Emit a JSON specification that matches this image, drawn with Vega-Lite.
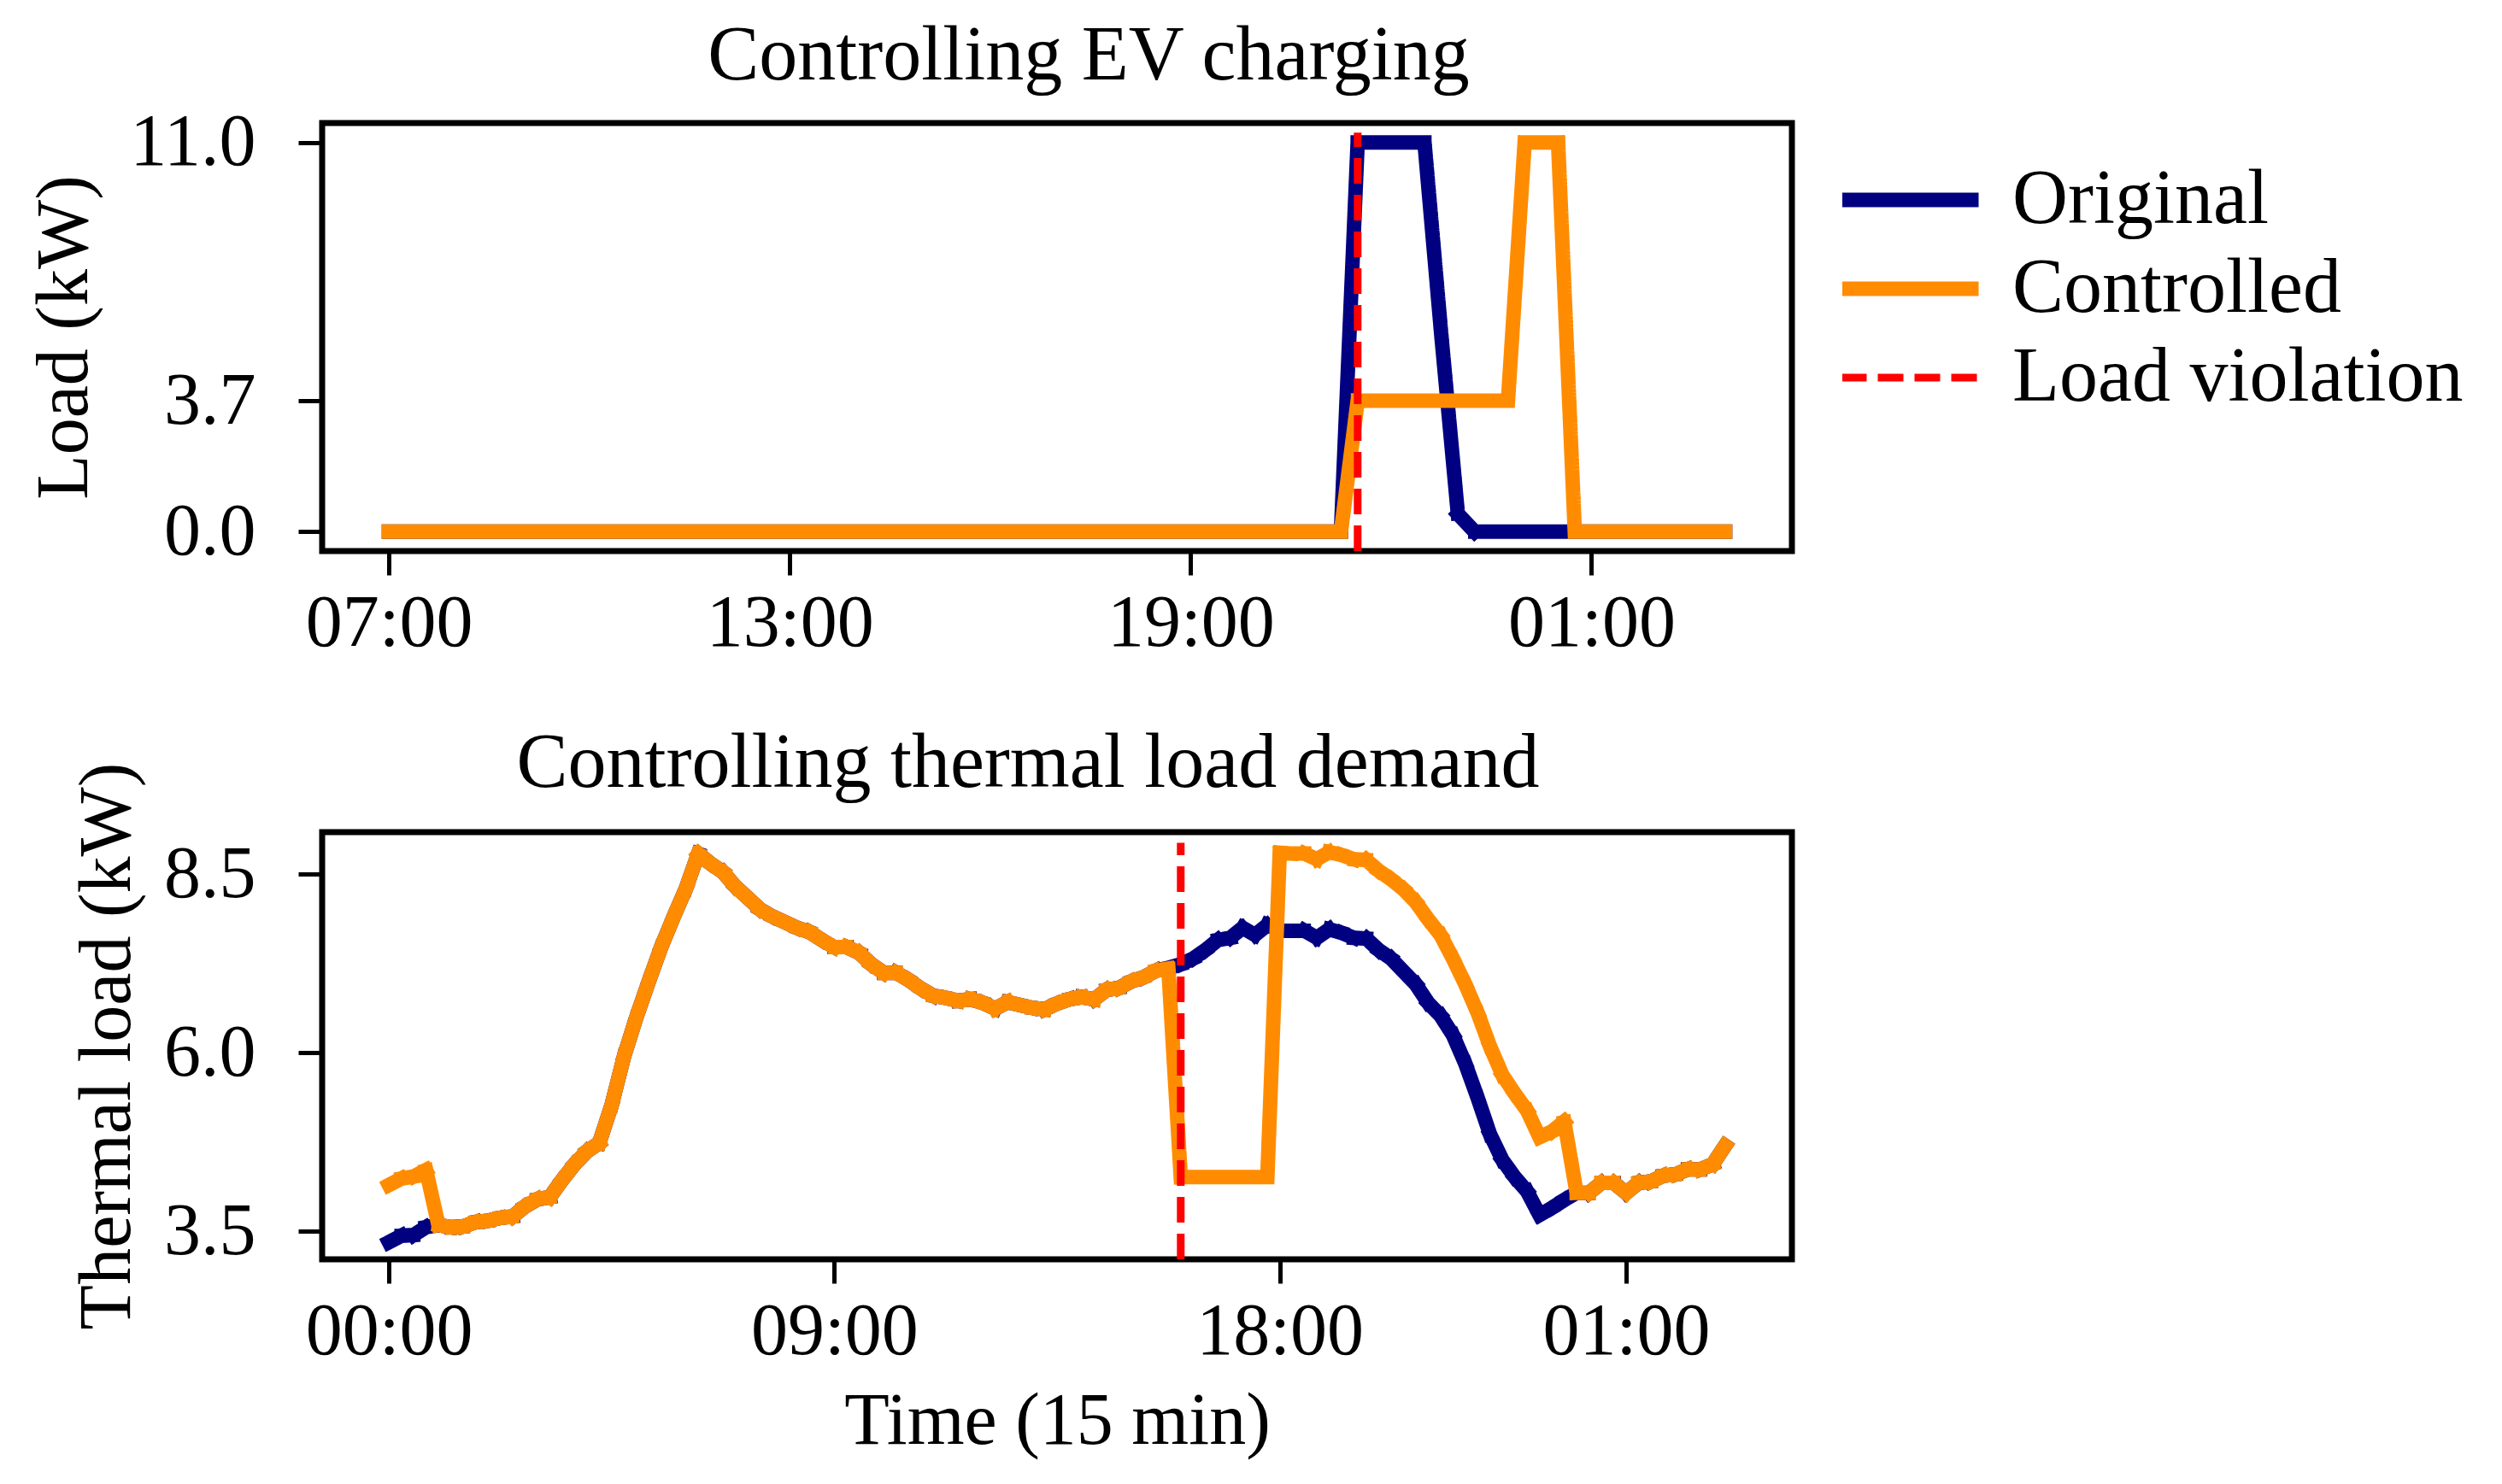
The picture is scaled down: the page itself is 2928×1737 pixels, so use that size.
{
  "$schema": "https://vega.github.io/schema/vega-lite/v6.json",
  "padding": {"left": 28, "top": 17, "right": 10, "bottom": 10},
  "background": "white",
  "spacing": 69,
  "datasets": {
    "ev": [
      {"t": 0, "Original": 0, "Controlled": 0}, {"t": 1, "Original": 0, "Controlled": 0},
      {"t": 2, "Original": 0, "Controlled": 0}, {"t": 3, "Original": 0, "Controlled": 0},
      {"t": 4, "Original": 0, "Controlled": 0}, {"t": 5, "Original": 0, "Controlled": 0},
      {"t": 6, "Original": 0, "Controlled": 0}, {"t": 7, "Original": 0, "Controlled": 0},
      {"t": 8, "Original": 0, "Controlled": 0}, {"t": 9, "Original": 0, "Controlled": 0},
      {"t": 10, "Original": 0, "Controlled": 0}, {"t": 11, "Original": 0, "Controlled": 0},
      {"t": 12, "Original": 0, "Controlled": 0}, {"t": 13, "Original": 0, "Controlled": 0},
      {"t": 14, "Original": 0, "Controlled": 0}, {"t": 15, "Original": 0, "Controlled": 0},
      {"t": 16, "Original": 0, "Controlled": 0}, {"t": 17, "Original": 0, "Controlled": 0},
      {"t": 18, "Original": 0, "Controlled": 0}, {"t": 19, "Original": 0, "Controlled": 0},
      {"t": 20, "Original": 0, "Controlled": 0}, {"t": 21, "Original": 0, "Controlled": 0},
      {"t": 22, "Original": 0, "Controlled": 0}, {"t": 23, "Original": 0, "Controlled": 0},
      {"t": 24, "Original": 0, "Controlled": 0}, {"t": 25, "Original": 0, "Controlled": 0},
      {"t": 26, "Original": 0, "Controlled": 0}, {"t": 27, "Original": 0, "Controlled": 0},
      {"t": 28, "Original": 0, "Controlled": 0}, {"t": 29, "Original": 0, "Controlled": 0},
      {"t": 30, "Original": 0, "Controlled": 0}, {"t": 31, "Original": 0, "Controlled": 0},
      {"t": 32, "Original": 0, "Controlled": 0}, {"t": 33, "Original": 0, "Controlled": 0},
      {"t": 34, "Original": 0, "Controlled": 0}, {"t": 35, "Original": 0, "Controlled": 0},
      {"t": 36, "Original": 0, "Controlled": 0}, {"t": 37, "Original": 0, "Controlled": 0},
      {"t": 38, "Original": 0, "Controlled": 0}, {"t": 39, "Original": 0, "Controlled": 0},
      {"t": 40, "Original": 0, "Controlled": 0}, {"t": 41, "Original": 0, "Controlled": 0},
      {"t": 42, "Original": 0, "Controlled": 0}, {"t": 43, "Original": 0, "Controlled": 0},
      {"t": 44, "Original": 0, "Controlled": 0}, {"t": 45, "Original": 0, "Controlled": 0},
      {"t": 46, "Original": 0, "Controlled": 0}, {"t": 47, "Original": 0, "Controlled": 0},
      {"t": 48, "Original": 0, "Controlled": 0}, {"t": 49, "Original": 0, "Controlled": 0},
      {"t": 50, "Original": 0, "Controlled": 0}, {"t": 51, "Original": 0, "Controlled": 0},
      {"t": 52, "Original": 0, "Controlled": 0}, {"t": 53, "Original": 0, "Controlled": 0},
      {"t": 54, "Original": 0, "Controlled": 0}, {"t": 55, "Original": 0, "Controlled": 0},
      {"t": 56, "Original": 0, "Controlled": 0}, {"t": 57, "Original": 0, "Controlled": 0},
      {"t": 58, "Original": 11, "Controlled": 3.7}, {"t": 59, "Original": 11, "Controlled": 3.7},
      {"t": 60, "Original": 11, "Controlled": 3.7}, {"t": 61, "Original": 11, "Controlled": 3.7},
      {"t": 62, "Original": 11, "Controlled": 3.7}, {"t": 63, "Original": 5.6, "Controlled": 3.7},
      {"t": 64, "Original": 0.5, "Controlled": 3.7}, {"t": 65, "Original": 0, "Controlled": 3.7},
      {"t": 66, "Original": 0, "Controlled": 3.7}, {"t": 67, "Original": 0, "Controlled": 3.7},
      {"t": 68, "Original": 0, "Controlled": 11}, {"t": 69, "Original": 0, "Controlled": 11},
      {"t": 70, "Original": 0, "Controlled": 11}, {"t": 71, "Original": 0, "Controlled": 0},
      {"t": 72, "Original": 0, "Controlled": 0}, {"t": 73, "Original": 0, "Controlled": 0},
      {"t": 74, "Original": 0, "Controlled": 0}, {"t": 75, "Original": 0, "Controlled": 0},
      {"t": 76, "Original": 0, "Controlled": 0}, {"t": 77, "Original": 0, "Controlled": 0},
      {"t": 78, "Original": 0, "Controlled": 0}, {"t": 79, "Original": 0, "Controlled": 0},
      {"t": 80, "Original": 0, "Controlled": 0}
    ],
    "thermal": [
      {"t": 0, "Original": 3.35, "Controlled": 4.15}, {"t": 1, "Original": 3.44, "Controlled": 4.24},
      {"t": 2, "Original": 3.45, "Controlled": 4.27}, {"t": 3, "Original": 3.56, "Controlled": 4.36},
      {"t": 4, "Original": 3.59, "Controlled": 3.59}, {"t": 5, "Original": 3.56, "Controlled": 3.56},
      {"t": 6, "Original": 3.57, "Controlled": 3.57}, {"t": 7, "Original": 3.63, "Controlled": 3.63},
      {"t": 8, "Original": 3.65, "Controlled": 3.65}, {"t": 9, "Original": 3.69, "Controlled": 3.69},
      {"t": 10, "Original": 3.71, "Controlled": 3.71}, {"t": 11, "Original": 3.85, "Controlled": 3.85},
      {"t": 12, "Original": 3.95, "Controlled": 3.95}, {"t": 13, "Original": 3.98, "Controlled": 3.98},
      {"t": 14, "Original": 4.22, "Controlled": 4.22}, {"t": 15, "Original": 4.44, "Controlled": 4.44},
      {"t": 16, "Original": 4.62, "Controlled": 4.62}, {"t": 17, "Original": 4.74, "Controlled": 4.74},
      {"t": 18, "Original": 5.27, "Controlled": 5.27}, {"t": 19, "Original": 5.95, "Controlled": 5.95},
      {"t": 20, "Original": 6.5, "Controlled": 6.5}, {"t": 21, "Original": 7.0, "Controlled": 7.0},
      {"t": 22, "Original": 7.48, "Controlled": 7.48}, {"t": 23, "Original": 7.9, "Controlled": 7.9},
      {"t": 24, "Original": 8.3, "Controlled": 8.3}, {"t": 25, "Original": 8.79, "Controlled": 8.79},
      {"t": 26, "Original": 8.65, "Controlled": 8.65}, {"t": 27, "Original": 8.53, "Controlled": 8.53},
      {"t": 28, "Original": 8.33, "Controlled": 8.33}, {"t": 29, "Original": 8.17, "Controlled": 8.17},
      {"t": 30, "Original": 8.01, "Controlled": 8.01}, {"t": 31, "Original": 7.91, "Controlled": 7.91},
      {"t": 32, "Original": 7.83, "Controlled": 7.83}, {"t": 33, "Original": 7.75, "Controlled": 7.75},
      {"t": 34, "Original": 7.69, "Controlled": 7.69}, {"t": 35, "Original": 7.58, "Controlled": 7.58},
      {"t": 36, "Original": 7.48, "Controlled": 7.48}, {"t": 37, "Original": 7.48, "Controlled": 7.48},
      {"t": 38, "Original": 7.4, "Controlled": 7.4}, {"t": 39, "Original": 7.24, "Controlled": 7.24},
      {"t": 40, "Original": 7.12, "Controlled": 7.12}, {"t": 41, "Original": 7.12, "Controlled": 7.12},
      {"t": 42, "Original": 7.02, "Controlled": 7.02}, {"t": 43, "Original": 6.9, "Controlled": 6.9},
      {"t": 44, "Original": 6.8, "Controlled": 6.8}, {"t": 45, "Original": 6.77, "Controlled": 6.77},
      {"t": 46, "Original": 6.73, "Controlled": 6.73}, {"t": 47, "Original": 6.75, "Controlled": 6.75},
      {"t": 48, "Original": 6.7, "Controlled": 6.7}, {"t": 49, "Original": 6.62, "Controlled": 6.62},
      {"t": 50, "Original": 6.71, "Controlled": 6.71}, {"t": 51, "Original": 6.67, "Controlled": 6.67},
      {"t": 52, "Original": 6.63, "Controlled": 6.63}, {"t": 53, "Original": 6.61, "Controlled": 6.61},
      {"t": 54, "Original": 6.69, "Controlled": 6.69}, {"t": 55, "Original": 6.75, "Controlled": 6.75},
      {"t": 56, "Original": 6.78, "Controlled": 6.78}, {"t": 57, "Original": 6.75, "Controlled": 6.75},
      {"t": 58, "Original": 6.88, "Controlled": 6.88}, {"t": 59, "Original": 6.91, "Controlled": 6.91},
      {"t": 60, "Original": 7.0, "Controlled": 7.0}, {"t": 61, "Original": 7.06, "Controlled": 7.06},
      {"t": 62, "Original": 7.15, "Controlled": 7.15}, {"t": 63, "Original": 7.19, "Controlled": 7.18},
      {"t": 64, "Original": 7.24, "Controlled": 4.26}, {"t": 65, "Original": 7.32, "Controlled": 4.26},
      {"t": 66, "Original": 7.44, "Controlled": 4.26}, {"t": 67, "Original": 7.58, "Controlled": 4.26},
      {"t": 68, "Original": 7.61, "Controlled": 4.26}, {"t": 69, "Original": 7.75, "Controlled": 4.26},
      {"t": 70, "Original": 7.65, "Controlled": 4.26}, {"t": 71, "Original": 7.79, "Controlled": 4.26},
      {"t": 72, "Original": 7.71, "Controlled": 8.8}, {"t": 73, "Original": 7.71, "Controlled": 8.79},
      {"t": 74, "Original": 7.71, "Controlled": 8.79}, {"t": 75, "Original": 7.61, "Controlled": 8.71},
      {"t": 76, "Original": 7.73, "Controlled": 8.81}, {"t": 77, "Original": 7.68, "Controlled": 8.77},
      {"t": 78, "Original": 7.61, "Controlled": 8.71}, {"t": 79, "Original": 7.6, "Controlled": 8.7},
      {"t": 80, "Original": 7.44, "Controlled": 8.55}, {"t": 81, "Original": 7.32, "Controlled": 8.43},
      {"t": 82, "Original": 7.14, "Controlled": 8.29}, {"t": 83, "Original": 6.96, "Controlled": 8.11},
      {"t": 84, "Original": 6.7, "Controlled": 7.87}, {"t": 85, "Original": 6.52, "Controlled": 7.65},
      {"t": 86, "Original": 6.25, "Controlled": 7.32}, {"t": 87, "Original": 5.85, "Controlled": 6.96},
      {"t": 88, "Original": 5.37, "Controlled": 6.56}, {"t": 89, "Original": 4.86, "Controlled": 6.09},
      {"t": 90, "Original": 4.5, "Controlled": 5.69}, {"t": 91, "Original": 4.26, "Controlled": 5.43},
      {"t": 92, "Original": 4.06, "Controlled": 5.19}, {"t": 93, "Original": 3.73, "Controlled": 4.82},
      {"t": 94, "Original": 3.83, "Controlled": 4.9}, {"t": 95, "Original": 3.94, "Controlled": 5.04},
      {"t": 96, "Original": 4.04, "Controlled": 4.04}, {"t": 97, "Original": 4.04, "Controlled": 4.04},
      {"t": 98, "Original": 4.18, "Controlled": 4.18}, {"t": 99, "Original": 4.18, "Controlled": 4.18},
      {"t": 100, "Original": 4.04, "Controlled": 4.04}, {"t": 101, "Original": 4.18, "Controlled": 4.18},
      {"t": 102, "Original": 4.2, "Controlled": 4.2}, {"t": 103, "Original": 4.28, "Controlled": 4.28},
      {"t": 104, "Original": 4.3, "Controlled": 4.3}, {"t": 105, "Original": 4.37, "Controlled": 4.37},
      {"t": 106, "Original": 4.37, "Controlled": 4.37}, {"t": 107, "Original": 4.44, "Controlled": 4.44},
      {"t": 108, "Original": 4.7, "Controlled": 4.7}
    ]
  },
  "vconcat": [
    {
      "title": {"text": "Controlling EV charging", "dx": 37},
      "width": 1720,
      "height": 501,
      "encoding": {
        "x": {
          "field": "t",
          "type": "quantitative",
          "scale": {"domain": [-4, 84], "nice": false, "zero": false},
          "axis": {
            "values": [0, 24, 48, 72],
            "labelExpr": "pad(toString((7 + datum.value / 4) % 24), 2, '0', 'left') + ':00'",
            "title": null
          }
        },
        "color": {
          "field": "series",
          "type": "nominal",
          "scale": {
            "domain": ["Original", "Controlled", "Load violation"],
            "range": ["#000080", "#ff8c00", "#ff0000"]
          },
          "legend": {
            "title": null,
            "encode": {
              "symbols": {"update": {"strokeWidth": {"signal": "datum.value === 'Load violation' ? 9 : 17"}}}
            }
          }
        },
        "strokeDash": {
          "field": "series",
          "type": "nominal",
          "scale": {
            "domain": ["Original", "Controlled", "Load violation"],
            "range": [[1, 0], [1, 0], [30, 13]]
          },
          "legend": {"title": null}
        }
      },
      "layer": [
        {
          "data": {"name": "ev"},
          "transform": [
            {"fold": ["Original", "Controlled"], "as": ["series", "load"]},
            {"filter": "datum.series === 'Original'"}
          ],
          "mark": {"type": "line", "strokeWidth": 17, "strokeJoin": "round", "strokeCap": "square"},
          "encoding": {
            "y": {
              "field": "load",
              "type": "quantitative",
              "scale": {"domain": [-0.55, 11.55], "nice": false, "zero": false},
              "axis": {"values": [0, 3.7, 11], "format": ".1f", "title": "Load (kW)", "titlePadding": 58}
            }
          }
        },
        {
          "data": {"name": "ev"},
          "transform": [
            {"fold": ["Original", "Controlled"], "as": ["series", "load"]},
            {"filter": "datum.series === 'Controlled'"}
          ],
          "mark": {"type": "line", "strokeWidth": 17, "strokeJoin": "round", "strokeCap": "square"},
          "encoding": {"y": {"field": "load", "type": "quantitative"}}
        },
        {
          "data": {"values": [{"t": 58, "lo": -0.55, "hi": 11.28, "series": "Load violation"}]},
          "mark": {"type": "rule", "strokeWidth": 9},
          "encoding": {
            "y": {"field": "lo", "type": "quantitative"},
            "y2": {"field": "hi"}
          }
        }
      ]
    },
    {
      "title": {"text": "Controlling thermal load demand", "dx": -34, "offset": -48},
      "width": 1720,
      "height": 500,
      "encoding": {
        "x": {
          "field": "t",
          "type": "quantitative",
          "scale": {"domain": [-5.4, 113.4], "nice": false, "zero": false},
          "axis": {
            "values": [0, 36, 72, 100],
            "labelExpr": "pad(toString((datum.value / 4) % 24), 2, '0', 'left') + ':00'",
            "title": "Time (15 min)"
          }
        },
        "color": {"field": "series", "type": "nominal"},
        "strokeDash": {"field": "series", "type": "nominal"}
      },
      "layer": [
        {
          "data": {"name": "thermal"},
          "transform": [
            {"fold": ["Original", "Controlled"], "as": ["series", "load"]},
            {"filter": "datum.series === 'Original'"}
          ],
          "mark": {"type": "line", "strokeWidth": 17, "strokeJoin": "round", "strokeCap": "square"},
          "encoding": {
            "y": {
              "field": "load",
              "type": "quantitative",
              "scale": {"domain": [3.11, 9.09], "nice": false, "zero": false},
              "axis": {"values": [3.5, 6.0, 8.5], "format": ".1f", "title": "Thermal load (kW)", "titlePadding": 22}
            }
          }
        },
        {
          "data": {"name": "thermal"},
          "transform": [
            {"fold": ["Original", "Controlled"], "as": ["series", "load"]},
            {"filter": "datum.series === 'Controlled'"}
          ],
          "mark": {"type": "line", "strokeWidth": 17, "strokeJoin": "round", "strokeCap": "square"},
          "encoding": {"y": {"field": "load", "type": "quantitative"}}
        },
        {
          "data": {"values": [{"t": 64, "lo": 3.11, "hi": 8.94, "series": "Load violation"}]},
          "mark": {"type": "rule", "strokeWidth": 9},
          "encoding": {
            "y": {"field": "lo", "type": "quantitative"},
            "y2": {"field": "hi"}
          }
        }
      ]
    }
  ],
  "config": {
    "font": "Liberation Serif",
    "view": {"stroke": "black", "strokeWidth": 7},
    "title": {
      "font": "Liberation Serif",
      "fontSize": 90,
      "fontWeight": "normal",
      "color": "black",
      "anchor": "middle",
      "baseline": "alphabetic",
      "frame": "group",
      "offset": 12
    },
    "axis": {
      "domain": false,
      "grid": false,
      "ticks": true,
      "tickColor": "black",
      "tickWidth": 5,
      "tickSize": 28,
      "labelFont": "Liberation Serif",
      "labelFontSize": 86,
      "labelColor": "black",
      "labelFlush": false,
      "labelOverlap": false,
      "labelLimit": 0,
      "titleFont": "Liberation Serif",
      "titleFontSize": 86,
      "titleFontWeight": "normal",
      "titleColor": "black",
      "titleLimit": 0
    },
    "axisX": {"labelPadding": 14, "titlePadding": 20},
    "axisY": {"labelPadding": 50},
    "legend": {
      "orient": "none",
      "legendX": 1779,
      "legendY": 60,
      "padding": 0,
      "labelFont": "Liberation Serif",
      "labelFontSize": 90,
      "labelColor": "black",
      "labelLimit": 0,
      "symbolType": "stroke",
      "symbolSize": 25921,
      "symbolStrokeWidth": 17,
      "symbolOffset": 34,
      "labelOffset": 75,
      "rowPadding": 14,
      "clipHeight": 60
    }
  }
}
